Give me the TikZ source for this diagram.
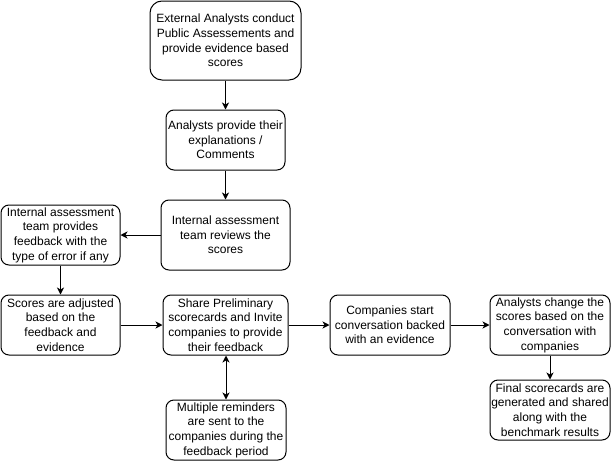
\documentclass[tikz,border=0pt]{standalone}
\usepackage{fontspec}
\setmainfont{Liberation Sans}
\usetikzlibrary{arrows.meta}
\begin{document}
\begin{tikzpicture}[x=1pt,y=-1pt,
 box/.style={draw, rounded corners=8pt, align=center, font=\fontsize{12}{14.6}\selectfont, inner sep=0pt, line width=1pt, minimum width=120pt, minimum height=60pt},
 arr/.style={-{Stealth[length=7pt,width=7pt,inset=2pt]}, line width=1pt}]
\fill[white] (0,0) rectangle (611,461);
\useasboundingbox (0,0) rectangle (611,461);
\node[box, minimum width=151pt, minimum height=79pt, rounded corners=12pt] (b1) at (225.5,40.5) {External Analysts conduct\\Public Assessements and\\provide evidence based\\scores};
\node[box, minimum width=119pt] (b2) at (225.5,140) {Analysts provide their\\explanations /\\Comments};
\node[box, minimum width=129pt, minimum height=70pt] (b3) at (225.5,235) {Internal assessment\\team reviews the\\scores};
\node[box, minimum width=119pt] (b4) at (60.5,235) {Internal assessment\\team provides\\feedback with the\\type of error if any};
\node[box, minimum width=119pt] (b5) at (60.5,325) {Scores are adjusted\\based on the\\feedback and\\evidence};
\node[box, minimum width=125pt] (b6) at (225.5,325) {Share Preliminary\\scorecards and Invite\\companies to provide\\their feedback};
\node[box] (b7) at (390,325) {Companies start\\conversation backed\\with an evidence};
\node[box] (b8) at (550,325) {Analysts change the\\scores based on the\\conversation with\\companies};
\node[box] (b9) at (550,410) {Final scorecards are\\generated and shared\\along with the\\benchmark results};
\node[box] (b10) at (226,430) {Multiple reminders\\are sent to the\\companies during the\\feedback period};
\draw[arr] (b1) -- (b2);
\draw[arr] (b2) -- (b3);
\draw[arr] (b3) -- (b4);
\draw[arr] (b4) -- (b5);
\draw[arr] (b5) -- (b6);
\draw[arr] (b6) -- (b7);
\draw[arr] (b7) -- (b8);
\draw[arr] (b8) -- (b9);
\draw[{Stealth[length=7pt,width=7pt,inset=2pt]}-{Stealth[length=7pt,width=7pt,inset=2pt]}, line width=1pt] (b6.south -| b10.north) -- (b10);
\end{tikzpicture}
\end{document}
